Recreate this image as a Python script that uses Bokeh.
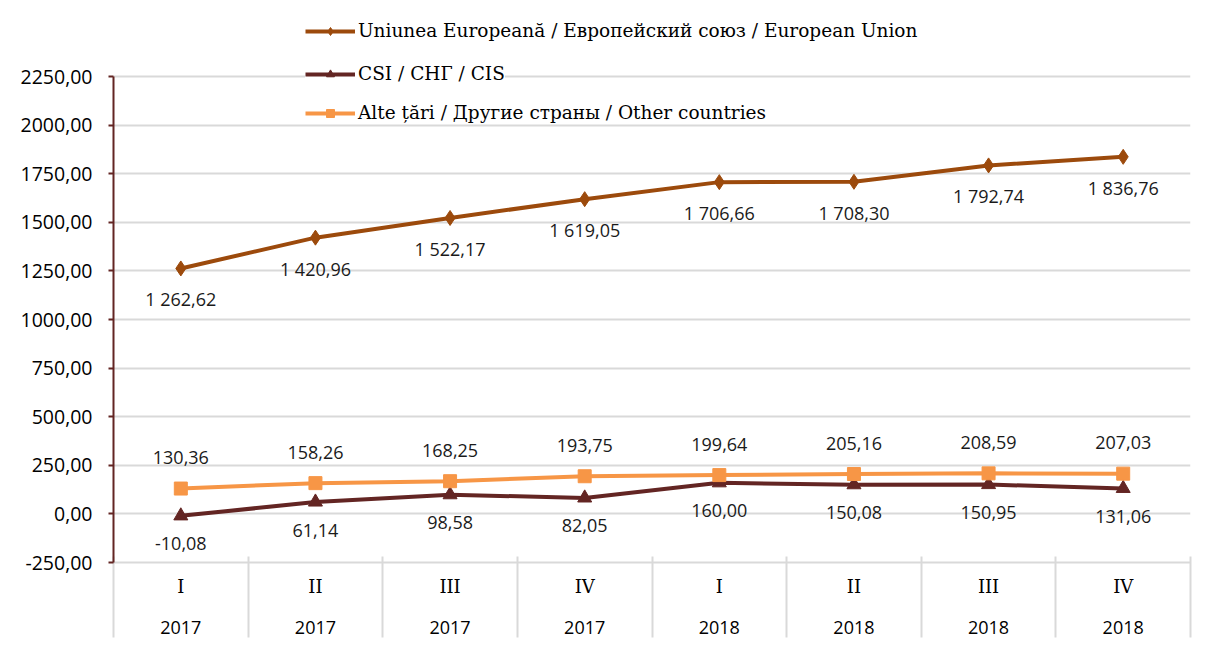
from bokeh.plotting import figure
from bokeh.models import (ColumnDataSource, Range1d, FixedTicker, LinearAxis, Legend, LegendItem)
from bokeh.core.properties import value
from bokeh.embed import file_html
from bokeh.resources import INLINE

quarters = ["I", "II", "III", "IV", "I", "II", "III", "IV"]
years = ["2017", "2017", "2017", "2017", "2018", "2018", "2018", "2018"]
eu = [1262.62, 1420.96, 1522.17, 1619.05, 1706.66, 1708.30, 1792.74, 1836.76]
cis = [-10.08, 61.14, 98.58, 82.05, 160.00, 150.08, 150.95, 131.06]
other = [130.36, 158.26, 168.25, 193.75, 199.64, 205.16, 208.59, 207.03]
y_ticks = [-250, 0, 250, 500, 750, 1000, 1250, 1500, 1750, 2000, 2250]
series_names = ["Uniunea Europeană / Европейский союз / European Union",
                "CSI / СНГ / CIS",
                "Alte țări / Другие страны / Other countries"]

def fmt_label(v):
    s = f"{abs(v):,.2f}".replace(",", " ").replace(".", ",")
    return ("-" if v < 0 else "") + s

def fmt_tick(v):
    return f"{v:.2f}".replace(".", ",")

x = list(range(len(quarters)))
src = ColumnDataSource(dict(
    x=x, eu=eu, cis=cis, other=other,
    eu_l=[fmt_label(v) for v in eu], cis_l=[fmt_label(v) for v in cis],
    other_l=[fmt_label(v) for v in other]))

# layout (pixels)
W, H = 1198, 643
FL, FR, FT, FB = 113, 1190, 0, 562       # frame edges
Y_LO, Y_HI = -250, 2250
PX_PER_UNIT = (FB - 76) / (Y_HI - Y_LO)   # 2250 gridline at y=76
y_top = Y_HI + (76 - FT) / PX_PER_UNIT

p = figure(width=W, height=H, output_backend="svg", toolbar_location=None,
           x_range=Range1d(-0.5, len(x) - 0.5), y_range=Range1d(Y_LO, y_top),
           x_axis_type=None, min_border_left=FL, min_border_right=W - FR,
           min_border_top=FT, min_border_bottom=H - FB)
p.outline_line_color = None
p.background_fill_color = "white"
p.border_fill_color = "white"

SANS = "Open Sans"
SERIF = "DejaVu Serif"
GRID = "#D9D9D9"

# y axis
p.yaxis.ticker = FixedTicker(ticks=y_ticks, minor_ticks=[])
p.yaxis.bounds = (Y_LO, Y_HI)
p.yaxis.major_label_overrides = {t: fmt_tick(t) for t in y_ticks}
p.yaxis.axis_line_color = "#632523"
p.yaxis.axis_line_width = 2
p.yaxis.major_tick_line_color = "#632523"
p.yaxis.major_tick_line_width = 2
p.yaxis.major_tick_out = 5
p.yaxis.major_tick_in = 0
p.yaxis.minor_tick_line_color = None
p.yaxis.major_label_text_font = SANS
p.yaxis.major_label_text_font_size = "19.5px"
p.yaxis.major_label_text_color = "black"
p.yaxis.major_label_standoff = 16
p.ygrid.grid_line_color = GRID
p.ygrid.grid_line_width = 2

# x axes: quarter row, year row, separators
qa = LinearAxis(ticker=FixedTicker(ticks=x, minor_ticks=[]))
qa.major_label_overrides = {i: q for i, q in enumerate(quarters)}
qa.axis_line_color = GRID
qa.axis_line_width = 2
qa.major_tick_line_color = None
qa.major_tick_out = 0
qa.major_tick_in = 0
qa.minor_tick_line_color = None
qa.major_label_text_font = SERIF
qa.major_label_text_font_size = "18px"
qa.major_label_text_color = "black"
qa.major_label_standoff = 13
p.add_layout(qa, "below")

ya = LinearAxis(ticker=FixedTicker(ticks=x, minor_ticks=[]))
ya.major_label_overrides = {i: y for i, y in enumerate(years)}
ya.axis_line_color = None
ya.major_tick_line_color = None
ya.major_tick_out = 0
ya.major_tick_in = 0
ya.minor_tick_line_color = None
ya.major_label_text_font = SANS
ya.major_label_text_font_size = "18px"
ya.major_label_text_color = "black"
ya.major_label_standoff = 21
p.add_layout(ya, "below")

sa = LinearAxis(ticker=FixedTicker(ticks=[], minor_ticks=[i - 0.5 for i in range(len(x) + 1)]))
sa.axis_line_color = None
sa.major_tick_line_color = None
sa.major_tick_out = 0
sa.major_tick_in = 0
sa.minor_tick_line_color = GRID
sa.minor_tick_line_width = 2
sa.minor_tick_in = 80
sa.minor_tick_out = 1
sa.major_label_standoff = 0
sa.major_label_text_font_size = "0px"
p.add_layout(sa, "below")

C_EU = "#9C4A0C"
C_CIS = "#632523"
C_OT = "#F79646"

l_eu = p.line("x", "eu", source=src, line_color=C_EU, line_width=4)
m_eu = p.scatter("x", "eu", source=src, marker="diamond", size=15, color=C_EU)
l_ci = p.line("x", "cis", source=src, line_color=C_CIS, line_width=4)
m_ci = p.scatter("x", "cis", source=src, marker="triangle", size=14, color=C_CIS)
l_ot = p.line("x", "other", source=src, line_color=C_OT, line_width=4)
m_ot = p.scatter("x", "other", source=src, marker="square", size=13, color=C_OT)

common = dict(source=src, text_font=value(SANS), text_font_size="18px", text_color="#1a1a1a",
              text_align="center", text_baseline="middle")
p.text("x", "eu", text="eu_l", y_offset=31, **common)
p.text("x", "cis", text="cis_l", y_offset=28, **common)
p.text("x", "other", text="other_l", y_offset=-31, **common)

frame_h = FB - FT
LEG_H = 20
centers = [31, 74, 113]
for name, rends, c in zip(series_names, [[l_eu, m_eu], [l_ci, m_ci], [l_ot, m_ot]], centers):
    lg = Legend(items=[LegendItem(label=name, renderers=rends)],
                location=(305 - FL, frame_h - (c + LEG_H / 2 - FT)))
    lg.padding = 0
    lg.margin = 0
    lg.border_line_color = None
    lg.background_fill_color = "white"
    lg.background_fill_alpha = 1
    lg.glyph_width = 50
    lg.glyph_height = LEG_H
    lg.label_height = LEG_H
    lg.label_standoff = 3
    lg.label_text_font = SERIF
    lg.label_text_font_size = "18.5px"
    lg.label_text_color = "black"
    p.add_layout(lg, "center")

open("out.html", "w").write(file_html(p, INLINE))
